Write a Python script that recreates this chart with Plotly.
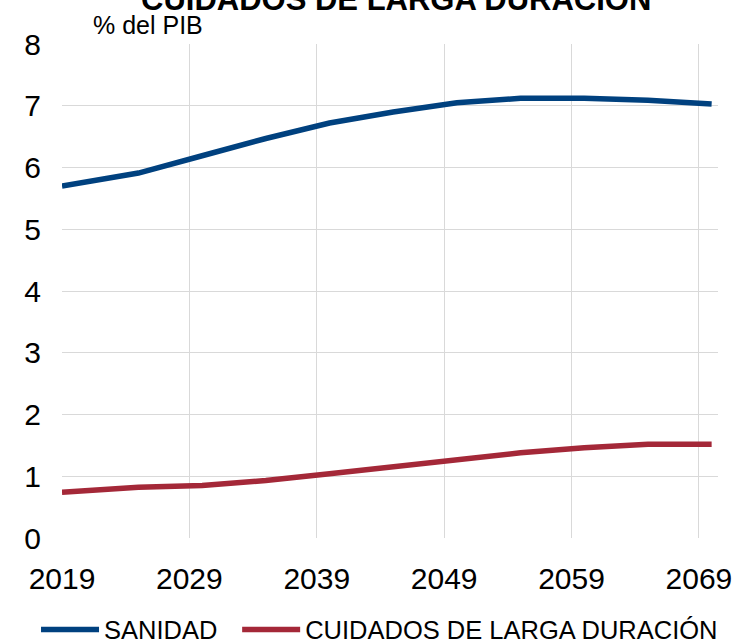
import plotly.graph_objects as go

years = [2019, 2025, 2030, 2035, 2040, 2045, 2050, 2055, 2060, 2065, 2070]
sanidad = [5.70, 5.91, 6.19, 6.47, 6.72, 6.90, 7.05, 7.12, 7.12, 7.09, 7.03]
cuidados = [0.74, 0.82, 0.85, 0.93, 1.04, 1.15, 1.27, 1.38, 1.46, 1.52, 1.52]
x_ticks = [2019, 2029, 2039, 2049, 2059, 2069]
y_ticks = [0, 1, 2, 3, 4, 5, 6, 7, 8]

FONT = "Liberation Sans"
BLUE = "#00417f"
RED = "#a42838"

fig = go.Figure()
fig.add_trace(go.Scatter(x=years, y=sanidad, mode="lines", name="SANIDAD",
                         line=dict(color=BLUE, width=5.5), legend="legend"))
fig.add_trace(go.Scatter(x=years, y=cuidados, mode="lines", name="CUIDADOS DE LARGA DURACIÓN",
                         line=dict(color=RED, width=5.5), legend="legend2"))

leg_common = dict(orientation="h", y=-0.186, yanchor="middle", xanchor="left",
                  font=dict(size=25.5, family=FONT), itemwidth=58,
                  bgcolor="rgba(0,0,0,0)")

fig.update_layout(
    width=738, height=644,
    margin=dict(l=62, r=20, t=44, b=106, autoexpand=False),
    plot_bgcolor="white", paper_bgcolor="white",
    font=dict(family=FONT, color="black"),
    showlegend=True,
    legend=dict(x=-0.0396, **leg_common),
    legend2=dict(x=0.267, **leg_common),
    xaxis=dict(range=[2019, 2070.5], tickvals=x_ticks, ticktext=[str(v) for v in x_ticks],
               showgrid=True, gridcolor="#d9d9d9", gridwidth=1, zeroline=False,
               showline=False, tickfont=dict(size=30), ticklabelstandoff=20,
               automargin=False),
    yaxis=dict(range=[0, 8], tickvals=y_ticks, showgrid=True, gridcolor="#d9d9d9",
               gridwidth=1, zeroline=False, showline=False, tickfont=dict(size=30),
               ticklabelstandoff=20, automargin=False),
    annotations=[
        dict(text="<b>CUIDADOS DE LARGA DURACIÓN</b>", xref="paper", yref="paper",
             x=0.509, y=1, xanchor="center", yanchor="bottom", yshift=25,
             showarrow=False, font=dict(size=31, family=FONT, color="black")),
        dict(text="% del PIB", xref="paper", yref="paper", x=0.044, y=1,
             xanchor="left", yanchor="middle", yshift=19, showarrow=False,
             font=dict(size=25, family=FONT, color="black")),
    ],
)

fig.write_html("out.html", config={"displayModeBar": False},
               post_script="document.body.style.margin='0';document.body.style.overflow='hidden';")
